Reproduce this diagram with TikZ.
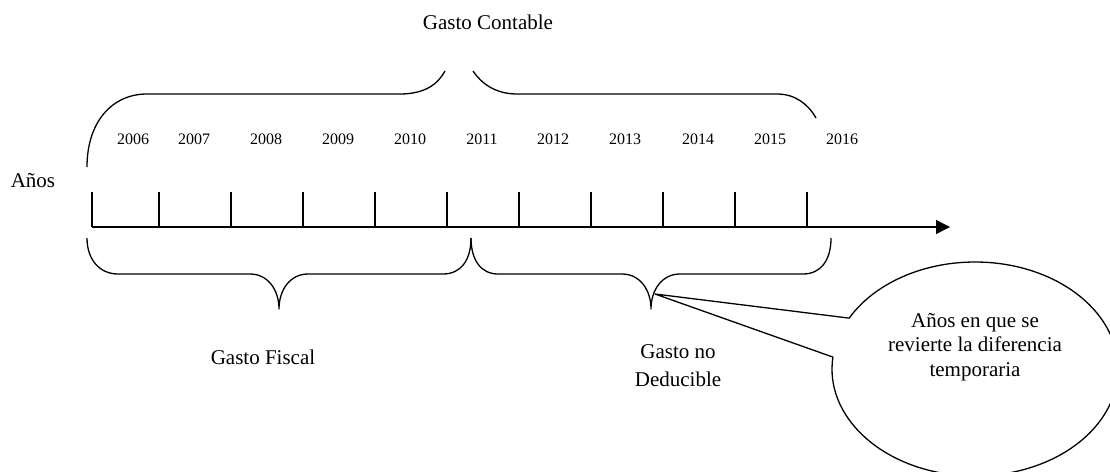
\documentclass[tikz,border=0pt]{standalone}
\usepackage{fontspec}
\setmainfont{Liberation Serif}
\usetikzlibrary{shapes.callouts,arrows.meta}
\begin{document}
\begin{tikzpicture}[x=1pt,y=-1pt,line width=1.3pt,line join=round,
  lbl/.style={font=\fontsize{21}{24.5}\selectfont,inner sep=0pt,align=center},
  yr/.style={font=\fontsize{16}{18}\selectfont,inner sep=0pt},
  axisarrow/.style={-{Triangle[length=14pt,width=14pt]}},
  bubble/.style={ellipse callout,draw,inner sep=0pt,minimum width=286pt,minimum height=214pt,callout pointer arc=22}]
\useasboundingbox (0,0) rectangle (1110,471);
% axis
\coordinate (a0) at (92,227);
\coordinate (aend) at (950,227);
\draw[axisarrow] (a0) -- (aend);
\foreach \i/\x in {0/92,1/159,2/231,3/303,4/375,5/447,6/519,7/591,8/663,9/735,10/807}{
  \coordinate (b\i) at (\x,227);
  \coordinate (u\i) at (\x,192);
  \draw (b\i) -- (u\i);
}
% years
\foreach \y/\x in {2006/133,2007/194,2008/266,2009/338,2010/410,2011/482,2012/553,2013/625,2014/698,2015/770,2016/842}{
  \node[yr] (y\y) at (\x,139) {\y};
}
\node[lbl] (anos) at (33,181) {Años};
% top brace
\draw (87,167) .. controls (87,122) and (112,94) .. (147,94) -- (400,94) .. controls (425,94) and (438,84) .. (445,71);
\draw (473,71) .. controls (481,83) and (495,94) .. (517,94) -- (777,94) .. controls (795,94) and (808,104) .. (816,118);
\node[lbl] (contable) at (488,22) {Gasto Contable};
% bottom braces
\coordinate (mid) at (471,238);
\coordinate (tipF) at (279,309);
\coordinate (tipN) at (651,309);
\draw (87,238) .. controls (87,260) and (100,274) .. (118,274) -- (250,274) .. controls (268,274) and (279,290) .. (tipF) .. controls (279,290) and (290,274) .. (308,274) -- (443,274) .. controls (461,274) and (471,260) .. (mid);
\draw (mid) .. controls (471,260) and (481,274) .. (498,274) -- (622,274) .. controls (640,274) and (651,290) .. (tipN) .. controls (651,290) and (662,274) .. (680,274) -- (803,274) .. controls (821,274) and (831,260) .. (831,238);
\node[lbl] (fiscal) at (263,357) {Gasto Fiscal};
\node[lbl,font=\fontsize{21}{28}\selectfont] (nodeduc) at (678,366) {Gasto no\\Deducible};
% callout
\coordinate (ptip) at (655,294);
\node[bubble,callout absolute pointer={(ptip)}] (callout) at (975,369) {};
\node[lbl] (ctext) at (975,347) {Años en que se\\revierte la diferencia\\temporaria};
\end{tikzpicture}
\end{document}
